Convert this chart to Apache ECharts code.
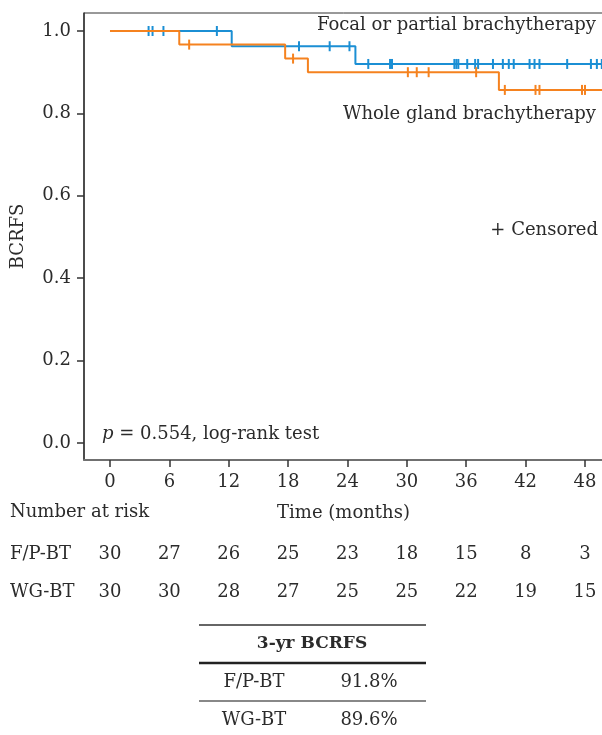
<!DOCTYPE html>
<html>
<head>
<meta charset="utf-8">
<title>BCRFS Kaplan-Meier</title>
<script src="https://cdn.jsdelivr.net/npm/echarts@6/dist/echarts.min.js"></script>
<style>
  html, body { margin: 0; padding: 0; background: #fff; }
  #km { width: 602px; height: 735px; }
</style>
</head>
<body>
<div id="km"></div>
<script>
// 坐标轴刻度
const timeTicks = [0, 6, 12, 18, 24, 30, 36, 42, 48];
const survTicks = [0, 0.2, 0.4, 0.6, 0.8, 1.0];

// F/P-BT（蓝）：事件时间与生存率
const fpTimes = [0, 12.3, 24.8];
const fpSurv = [1, 0.963, 0.92];
const fpCensor = [3.9, 4.3, 5.4, 10.8, 19.1, 22.2, 24.2, 26.1, 28.3, 28.5, 34.8, 35.0, 35.2,
  36.1, 36.9, 37.2, 38.7, 39.7, 40.3, 40.8, 42.4, 42.9, 43.4, 46.2, 48.6, 49.2, 49.7];

// WG-BT（橙）
const wgTimes = [0, 7.0, 17.7, 20.0, 39.3];
const wgSurv = [1, 0.967, 0.933, 0.9, 0.857];
const wgCensor = [8.0, 18.5, 30.1, 31.0, 32.2, 37.0, 39.9, 43.0, 43.4, 47.7, 48.0];

const followEnd = 49.8;

// 风险人数
const riskGroups = ['F/P-BT', 'WG-BT'];
const fpRisk = [30, 27, 26, 25, 23, 18, 15, 8, 3];
const wgRisk = [30, 30, 28, 27, 25, 25, 22, 19, 15];

// 3 年 BCRFS 表
const bcrfsGroups = ['F/P-BT', 'WG-BT'];
const bcrfsValues = ['91.8%', '89.6%'];

const FONT = 'DejaVu Serif';
const BLUE = '#1b8fd4';
const ORANGE = '#f5821f';
const INK = '#2b2b2b';

function survAt(times, surv, t) {
  let s = surv[0];
  for (let i = 0; i < times.length; i++) {
    if (times[i] <= t) s = surv[i];
  }
  return s;
}

function stepData(times, surv) {
  const d = times.map((t, i) => [t, surv[i]]);
  d.push([followEnd, surv[surv.length - 1]]);
  return d;
}

function censorData(times, surv, cens) {
  return cens.map(t => [t, survAt(times, surv, t)]);
}

const riskData = [];
timeTicks.forEach((t, i) => {
  riskData.push([t, riskGroups[0], fpRisk[i]]);
  riskData.push([t, riskGroups[1], wgRisk[i]]);
});

// 表格图形
const tableGraphics = [
  { type: 'line', shape: { x1: 199, y1: 625, x2: 426, y2: 625 }, style: { stroke: '#333', lineWidth: 1.5 } },
  { type: 'line', shape: { x1: 199, y1: 663, x2: 426, y2: 663 }, style: { stroke: '#222', lineWidth: 2.5 } },
  { type: 'line', shape: { x1: 199, y1: 701, x2: 426, y2: 701 }, style: { stroke: '#888', lineWidth: 2 } },
  { type: 'text', x: 312, y: 644, style: { text: '3-yr BCRFS', font: 'bold 17px "' + FONT + '"', fill: INK, textAlign: 'center', textVerticalAlign: 'middle' } }
];
bcrfsGroups.forEach((g, i) => {
  const y = 682 + i * 38;
  tableGraphics.push({ type: 'text', x: 254, y: y, style: { text: g, font: '18px "' + FONT + '"', fill: INK, textAlign: 'center', textVerticalAlign: 'middle' } });
  tableGraphics.push({ type: 'text', x: 369, y: y, style: { text: bcrfsValues[i], font: '18px "' + FONT + '"', fill: INK, textAlign: 'center', textVerticalAlign: 'middle' } });
});

const myChart = echarts.init(document.getElementById('km'), null, { renderer: 'canvas' });

const option = {
  animation: false,
  backgroundColor: '#fff',
  textStyle: { fontFamily: FONT },
  grid: [
    { left: 84, top: 13, width: 519, height: 447, show: true, borderColor: '#333', borderWidth: 1, outerBoundsMode: 'none' },
    { left: 84, top: 535, width: 519, height: 76, outerBoundsMode: 'none' }
  ],
  xAxis: [
    {
      gridIndex: 0, type: 'value', min: -2.627, max: 49.82,
      name: 'Time (months)', nameLocation: 'middle', nameGap: 44, nameMoveOverlap: false,
      nameTextStyle: { fontSize: 18, color: INK, fontFamily: FONT },
      axisLine: { show: true, onZero: false, lineStyle: { color: '#707070', width: 2 } },
      axisTick: { show: true, length: 7, customValues: timeTicks, lineStyle: { color: '#333', width: 1.5 } },
      axisLabel: { customValues: timeTicks, margin: 13, fontSize: 18, color: INK, fontFamily: FONT },
      splitLine: { show: false }
    },
    {
      gridIndex: 1, type: 'value', min: -2.627, max: 49.82, show: false
    }
  ],
  yAxis: [
    {
      gridIndex: 0, type: 'value', min: -0.0413, max: 1.0437,
      name: 'BCRFS', nameLocation: 'middle', nameGap: 57, nameMoveOverlap: false,
      nameTextStyle: { fontSize: 18, color: INK, fontFamily: FONT },
      axisLine: { show: true, onZero: false, lineStyle: { color: '#333', width: 1.5 } },
      axisTick: { show: true, length: 7, customValues: survTicks, lineStyle: { color: '#333', width: 1.5 } },
      axisLabel: { customValues: survTicks, margin: 13, fontSize: 18, color: INK, fontFamily: FONT, formatter: v => v.toFixed(1) },
      splitLine: { show: false }
    },
    {
      gridIndex: 1, type: 'category', data: riskGroups, inverse: true,
      axisLine: { show: false }, axisTick: { show: false }, splitLine: { show: false },
      axisLabel: { align: 'left', margin: 74, fontSize: 18, color: INK, fontFamily: FONT }
    }
  ],
  graphic: [
    { type: 'text', right: 6, top: 16, style: { text: 'Focal or partial brachytherapy', font: '18px "' + FONT + '"', fill: INK } },
    { type: 'text', right: 6, top: 105, style: { text: 'Whole gland brachytherapy', font: '18px "' + FONT + '"', fill: INK } },
    { type: 'text', right: 4, top: 221, style: { text: '+ Censored', font: '18px "' + FONT + '"', fill: INK } },
    { type: 'text', left: 102, top: 425, style: { text: '{i|p} = 0.554, log-rank test', font: '18px "' + FONT + '"', fill: INK, rich: { i: { fontStyle: 'italic', fontSize: 18, fontFamily: FONT } } } },
    { type: 'text', left: 10, top: 503, style: { text: 'Number at risk', font: '18px "' + FONT + '"', fill: INK } }
  ].concat(tableGraphics),
  series: [
    {
      name: 'F/P-BT', type: 'line', step: 'end', xAxisIndex: 0, yAxisIndex: 0,
      data: stepData(fpTimes, fpSurv), showSymbol: false, symbol: 'none',
      lineStyle: { color: BLUE, width: 2 }, itemStyle: { color: BLUE }
    },
    {
      name: 'WG-BT', type: 'line', step: 'end', xAxisIndex: 0, yAxisIndex: 0,
      data: stepData(wgTimes, wgSurv), showSymbol: false, symbol: 'none',
      lineStyle: { color: ORANGE, width: 2 }, itemStyle: { color: ORANGE }
    },
    {
      name: 'F/P-BT censored', type: 'scatter', xAxisIndex: 0, yAxisIndex: 0,
      data: censorData(fpTimes, fpSurv, fpCensor), symbol: 'rect', symbolSize: [2, 10],
      itemStyle: { color: BLUE, opacity: 1 }
    },
    {
      name: 'WG-BT censored', type: 'scatter', xAxisIndex: 0, yAxisIndex: 0,
      data: censorData(wgTimes, wgSurv, wgCensor), symbol: 'rect', symbolSize: [2, 10],
      itemStyle: { color: ORANGE, opacity: 1 }
    },
    {
      name: 'Number at risk', type: 'scatter', xAxisIndex: 1, yAxisIndex: 1,
      data: riskData, symbolSize: 0, itemStyle: { color: INK, opacity: 1 },
      label: { show: true, position: 'inside', formatter: p => p.value[2], fontSize: 18, color: INK, opacity: 1, fontFamily: FONT }
    }
  ]
};

myChart.setOption(option);
</script>
</body>
</html>
